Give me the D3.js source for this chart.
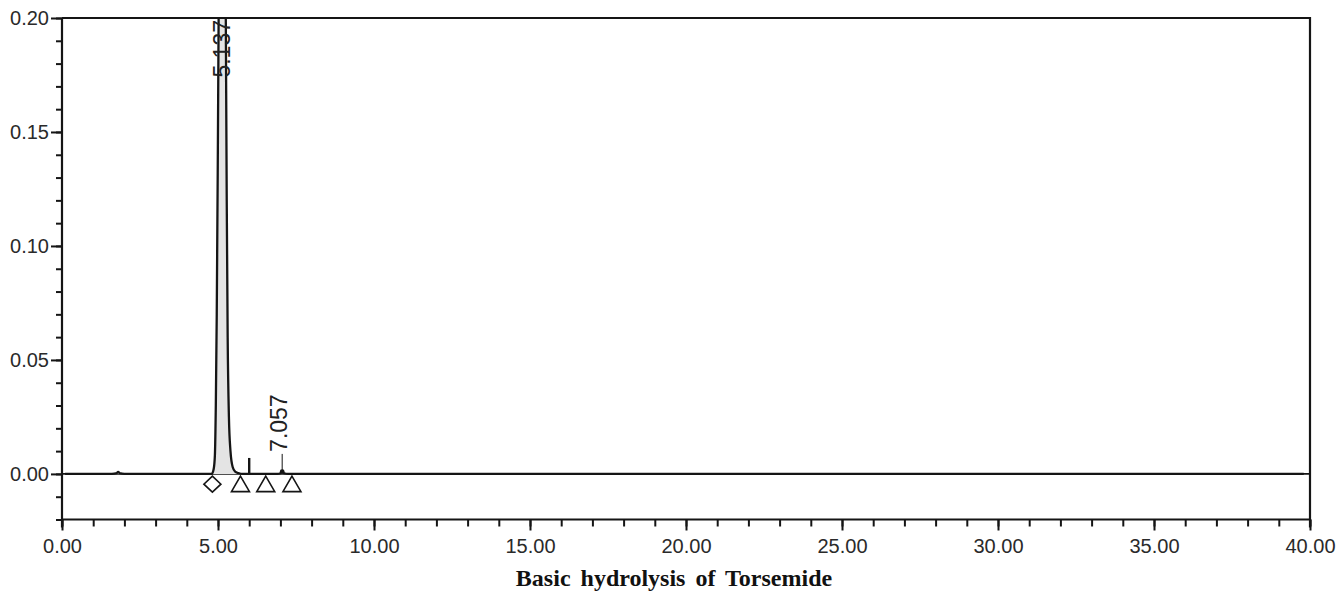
<!DOCTYPE html>
<html>
<head>
<meta charset="utf-8">
<script src="https://cdn.jsdelivr.net/npm/d3@7"></script>
<style>
  html, body { margin: 0; padding: 0; background: #fff; }
  svg { display: block; }
</style>
</head>
<body>
<svg id="chart" width="1340" height="593"></svg>
<script>
// Chromatogram trace: retention time (min) and detector response (AU)
const traceTime = [0.10, 1.00, 1.60, 1.75, 1.80, 1.85, 2.00, 3.00, 4.00, 4.60, 4.80,
  4.86, 4.90, 4.93, 4.96, 4.99, 5.02, 5.06, 5.10, 5.137, 5.17, 5.21, 5.25, 5.28,
  5.31, 5.35, 5.40, 5.47, 5.55, 5.65, 5.80, 6.20, 6.90, 7.00, 7.057, 7.12, 7.25,
  10.00, 20.00, 30.00, 39.80];
const traceAbs = [0.0000, 0.0000, 0.0000, 0.0003, 0.0009, 0.0003, 0.0000, 0.0000, 0.0000, 0.0000, 0.0000,
  0.0020, 0.0080, 0.0300, 0.0700, 0.1300, 0.2000, 0.3100, 0.3900, 0.4200, 0.3900, 0.3000, 0.2000, 0.1200,
  0.0600, 0.0250, 0.0100, 0.0030, 0.0010, 0.0004, 0.0000, 0.0000, 0.0000, 0.0003, 0.0010, 0.0003, 0.0000,
  0.0000, 0.0000, 0.0000, 0.0000];

// Integration event marks
const eventTimes = [6.0];
const eventHeights = [0.007];

// Peak retention times labelled on the trace
const peakTimes = [5.137, 7.057];
const peakLabels = ["5.137", "7.057"];

// Baseline start/stop markers
const startMarkers = [4.82];
const stopMarkers = [5.72, 6.53, 7.37];

// Axis ticks
const xMajorTicks = [0, 5, 10, 15, 20, 25, 30, 35, 40];
const xTickLabels = ["0.00", "5.00", "10.00", "15.00", "20.00", "25.00", "30.00", "35.00", "40.00"];
const yMajorTicks = [0.00, 0.05, 0.10, 0.15, 0.20];
const yTickLabels = ["0.00", "0.05", "0.10", "0.15", "0.20"];

const chartTitle = "Basic hydrolysis of Torsemide";

const svg = d3.select("#chart");
const W = 1340, H = 593;
const m = { left: 62, right: 30, top: 18, bottom: 73.5 };
const plotW = W - m.left - m.right;
const plotH = H - m.top - m.bottom;

const x = d3.scaleLinear().domain([0, 40]).range([m.left, m.left + plotW]);
const y = d3.scaleLinear().domain([-0.02, 0.20]).range([m.top + plotH, m.top]);

const ink = "#151515";
const labelFont = "'Liberation Sans', Arial, Helvetica, sans-serif";

svg.append("defs").append("clipPath").attr("id", "plotClip")
  .append("rect").attr("x", m.left).attr("y", m.top).attr("width", plotW).attr("height", plotH);

// Zero line across the plot
svg.append("line")
  .attr("x1", x(0)).attr("x2", x(40))
  .attr("y1", y(0)).attr("y2", y(0))
  .attr("stroke", ink).attr("stroke-width", 1.6);

// Trace
const traceData = traceTime.map((t, i) => [t, traceAbs[i]]);
const curve = d3.curveMonotoneX;
svg.append("path")
  .datum(traceData)
  .attr("clip-path", "url(#plotClip)")
  .attr("fill", "#e4e4e4")
  .attr("stroke", "none")
  .attr("d", d3.area().x(d => x(d[0])).y0(y(0)).y1(d => y(d[1])).curve(curve));
svg.append("path")
  .datum(traceData)
  .attr("clip-path", "url(#plotClip)")
  .attr("fill", "none")
  .attr("stroke", ink)
  .attr("stroke-width", 2.3)
  .attr("stroke-linejoin", "round")
  .attr("d", d3.line().x(d => x(d[0])).y(d => y(d[1])).curve(curve));

// Event marks
svg.selectAll(".event").data(eventTimes).join("line")
  .attr("x1", d => x(d)).attr("x2", d => x(d))
  .attr("y1", y(0)).attr("y2", (d, i) => y(eventHeights[i]))
  .attr("stroke", ink).attr("stroke-width", 2.4);

// Peak apex dot for the minor peak
svg.append("circle")
  .attr("cx", x(peakTimes[1])).attr("cy", y(0.0010))
  .attr("r", 2.4).attr("fill", ink);

// Peak labels (rotated)
const labelG = svg.append("g")
  .attr("font-family", labelFont).attr("font-size", 23).attr("fill", "#222");

// Main peak: label runs down from the top of the frame
labelG.append("text")
  .attr("transform", `translate(${x(peakTimes[0]) + 8},${m.top + 2}) rotate(-90)`)
  .attr("text-anchor", "end")
  .text(peakLabels[0]);

// Minor peak: label with a leader to the apex
const minorLabelBase = y(0) - 22;
labelG.append("text")
  .attr("transform", `translate(${x(peakTimes[1]) + 5},${minorLabelBase}) rotate(-90)`)
  .attr("text-anchor", "start")
  .text(peakLabels[1]);
svg.append("line")
  .attr("x1", x(peakTimes[1])).attr("x2", x(peakTimes[1]))
  .attr("y1", minorLabelBase + 2).attr("y2", y(0.001))
  .attr("stroke", ink).attr("stroke-width", 1);

// Start (diamond) and stop (triangle) markers
const markerY = y(-0.0045);
svg.selectAll(".start").data(startMarkers).join("path")
  .attr("d", d => {
    const cx = x(d), cy = markerY;
    return `M${cx},${cy - 8}L${cx + 8.5},${cy}L${cx},${cy + 8}L${cx - 8.5},${cy}Z`;
  })
  .attr("fill", "#fff").attr("stroke", ink).attr("stroke-width", 1.6);
svg.selectAll(".stop").data(stopMarkers).join("path")
  .attr("d", d => {
    const cx = x(d), cy = markerY;
    return `M${cx},${cy - 8}L${cx + 9},${cy + 7.5}L${cx - 9},${cy + 7.5}Z`;
  })
  .attr("fill", "#fff").attr("stroke", ink).attr("stroke-width", 1.6);

// Frame: top and right edges
svg.append("path")
  .attr("d", `M${x(0)},${y(0.2)}L${x(40)},${y(0.2)}L${x(40)},${y(-0.02) + 8}`)
  .attr("fill", "none").attr("stroke", ink).attr("stroke-width", 2.2);

// X axis
const xAxisG = svg.append("g").attr("transform", `translate(0,${y(-0.02)})`);
xAxisG.call(d3.axisBottom(x).tickValues(d3.range(0, 41, 1)).tickSize(7).tickFormat(""));
xAxisG.call(g => {
  g.select(".domain").attr("stroke", ink).attr("stroke-width", 2.2).attr("d", `M${x(0)},0H${x(40)}`);
  g.selectAll(".tick line").attr("stroke", ink).attr("stroke-width", 2);
});
const xMajG = svg.append("g").attr("transform", `translate(0,${y(-0.02)})`);
xMajG.call(d3.axisBottom(x).tickValues(xMajorTicks).tickSize(11).tickPadding(8)
  .tickFormat((d, i) => xTickLabels[i]));
xMajG.call(g => {
  g.select(".domain").remove();
  g.selectAll(".tick line").attr("stroke", ink).attr("stroke-width", 2);
  g.selectAll(".tick text").attr("font-family", labelFont).attr("font-size", 20).attr("fill", "#2a2a2a");
});

// Y axis
const yAxisG = svg.append("g").attr("transform", `translate(${x(0)},0)`);
yAxisG.call(d3.axisLeft(y).tickValues(d3.range(-0.02, 0.2001, 0.01)).tickSize(6).tickFormat(""));
yAxisG.call(g => {
  g.select(".domain").attr("stroke", ink).attr("stroke-width", 2.2).attr("d", `M0,${y(0.2)}V${y(-0.02) + 8}`);
  g.selectAll(".tick line").attr("stroke", ink).attr("stroke-width", 2);
});
const yMajG = svg.append("g").attr("transform", `translate(${x(0)},0)`);
yMajG.call(d3.axisLeft(y).tickValues(yMajorTicks).tickSize(11).tickPadding(2)
  .tickFormat((d, i) => yTickLabels[i]));
yMajG.call(g => {
  g.select(".domain").remove();
  g.selectAll(".tick line").attr("stroke", ink).attr("stroke-width", 2);
  g.selectAll(".tick text").attr("font-family", labelFont).attr("font-size", 20).attr("fill", "#2a2a2a");
});

// Title
svg.append("text")
  .attr("x", 674).attr("y", 586)
  .attr("text-anchor", "middle")
  .attr("font-family", "'Liberation Serif', 'Times New Roman', serif")
  .attr("font-weight", "bold")
  .attr("font-size", 24)
  .attr("word-spacing", 4)
  .attr("fill", "#111")
  .text(chartTitle);
</script>
</body>
</html>
